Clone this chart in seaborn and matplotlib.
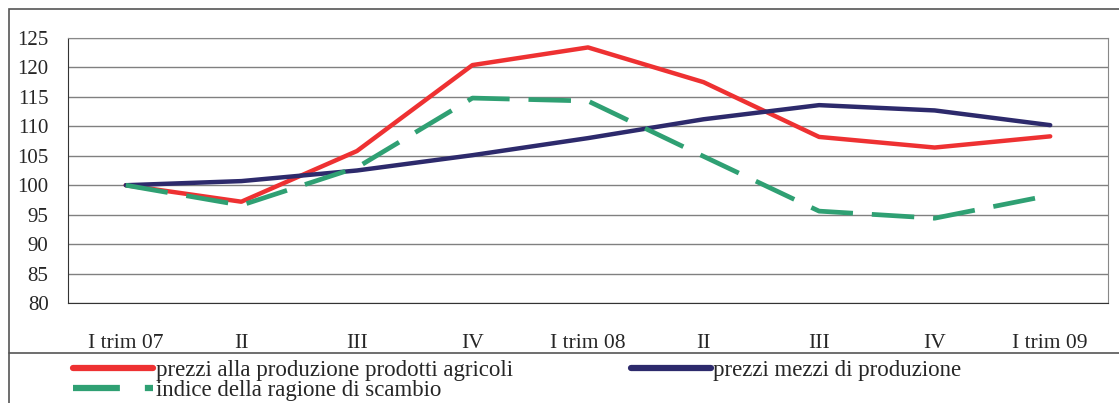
import pandas as pd
import matplotlib.pyplot as plt
import seaborn as sns
from matplotlib.patches import Rectangle
from matplotlib.lines import Line2D

# quarterly values
quarters = ['I trim 07', 'II', 'III', 'IV', 'I trim 08', 'II', 'III', 'IV', 'I trim 09']
prezzi_agricoli = [100, 97.2, 105.8, 120.4, 123.4, 117.5, 108.2, 106.4, 108.3]
prezzi_mezzi = [100, 100.7, 102.5, 105.1, 108.0, 111.2, 113.6, 112.7, 110.2]
ragione_scambio = [100, 96.6, 103.0, 114.8, 114.3, 104.9, 95.6, 94.4, 98.3]

sns.set_style('white')
plt.rcParams['font.family'] = ['Liberation Serif', 'DejaVu Serif']

df = pd.DataFrame({
    'pos': range(len(quarters)),
    'agricoli': prezzi_agricoli,
    'mezzi': prezzi_mezzi,
    'scambio': ragione_scambio,
})

fig = plt.figure(figsize=(11.19, 4.03), dpi=100)
ax = fig.add_axes([68 / 1119, 1 - 303 / 403, (1108 - 68) / 1119, (303 - 38) / 403])

red = '#EE3132'
navy = '#2D2A6C'
green = '#2FA073'

sns.lineplot(data=df, x='pos', y='agricoli', color=red, linewidth=3.2, ax=ax)
sns.lineplot(data=df, x='pos', y='mezzi', color=navy, linewidth=3.2, ax=ax)
sns.lineplot(data=df, x='pos', y='scambio', color=green, linewidth=3.4, ax=ax)
ax.lines[-1].set_dashes([9, 4])

ax.set_xlim(-0.5, 8.5)
ax.set_ylim(80, 125)
ax.set_yticks(range(80, 126, 5))
ax.yaxis.grid(True, color='#808080', linewidth=1)
ax.set_axisbelow(True)

ax.set_xticks(range(len(quarters)))
ax.set_xticklabels(quarters)
ax.set_xticks([i - 0.5 for i in range(len(quarters) + 1)], minor=True)
ax.tick_params(axis='x', which='major', length=0, pad=22, labelsize=15.5)
ax.tick_params(axis='x', which='minor', length=6, width=1, color='#555555')
ax.tick_params(axis='y', length=6, width=1, color='#555555', labelsize=15, pad=8)
ax.set_xlabel('')
ax.set_ylabel('')

for side in ['top', 'right']:
    ax.spines[side].set_color('#888888')
ax.spines['left'].set_color('#333333')
ax.spines['bottom'].set_color('#333333')

# outer frame and legend separator
fig.patches.append(Rectangle((9 / 1119, -0.1), 1.2, 1.1 - 9 / 403, transform=fig.transFigure,
                             fill=False, edgecolor='#555555', linewidth=1.2))
fig.lines.append(Line2D([9 / 1119, 1], [1 - 353 / 403] * 2, transform=fig.transFigure,
                        color='#555555', linewidth=1.2))

handles = [
    Line2D([], [], color=red, linewidth=4.5),
    Line2D([], [], color=green, linewidth=4.5, dashes=[7.5, 4]),
    Line2D([], [], color=navy, linewidth=4.5),
]
labels = ['prezzi alla produzione prodotti agricoli', 'indice della ragione di scambio',
          'prezzi mezzi di produzione']
fig.legend(handles, labels, ncol=2, loc='upper left', bbox_to_anchor=(73 / 1119, 1 - 360 / 403),
           frameon=False, fontsize=16.5, handlelength=3.5, handletextpad=0.1,
           labelspacing=-0.05, columnspacing=5.15, borderpad=0, borderaxespad=0)

plt.savefig('out.png', dpi=100)
plt.close()
